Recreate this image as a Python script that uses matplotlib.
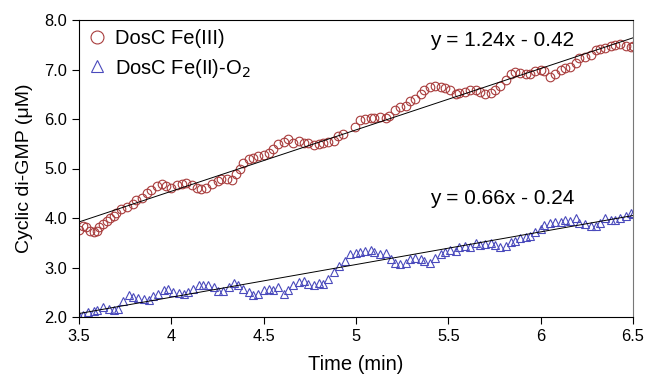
import matplotlib
matplotlib.use("Agg")
import matplotlib.pyplot as plt
import numpy as np

plt.rcParams['font.family'] = ['Liberation Sans', 'DejaVu Sans']

# DosC Fe(III) series (time in min, cyclic di-GMP in uM)
t_fe3 = [3.50, 3.52, 3.54, 3.56, 3.58, 3.60, 3.61, 3.63, 3.65, 3.67, 3.69, 3.70, 3.73, 3.76, 3.79,
         3.81, 3.84, 3.87, 3.89, 3.92, 3.95, 3.97, 4.00, 4.03, 4.06, 4.08, 4.11, 4.14, 4.16, 4.19,
         4.22, 4.25, 4.27, 4.30, 4.33, 4.35, 4.37, 4.39, 4.42, 4.44, 4.47, 4.50, 4.53, 4.55, 4.58,
         4.61, 4.63, 4.66, 4.69, 4.72, 4.74, 4.77, 4.80, 4.82, 4.85, 4.88, 4.90, 4.93, 4.995, 5.02,
         5.05, 5.08, 5.10, 5.13, 5.16, 5.18, 5.21, 5.24, 5.27, 5.29, 5.32, 5.35, 5.37, 5.40, 5.43,
         5.46, 5.48, 5.51, 5.54, 5.56, 5.59, 5.62, 5.65, 5.67, 5.70, 5.73, 5.75, 5.78, 5.81, 5.84,
         5.86, 5.89, 5.92, 5.94, 5.97, 6.00, 6.02, 6.05, 6.08, 6.11, 6.13, 6.16, 6.19, 6.21, 6.24,
         6.27, 6.30, 6.32, 6.35, 6.38, 6.40, 6.43, 6.46, 6.49, 6.50]
y_fe3 = [3.76, 3.84, 3.81, 3.74, 3.71, 3.74, 3.81, 3.88, 3.94, 4.01, 4.04, 4.11, 4.18, 4.23, 4.28,
         4.36, 4.41, 4.50, 4.57, 4.65, 4.68, 4.65, 4.61, 4.66, 4.69, 4.71, 4.66, 4.61, 4.59, 4.61,
         4.68, 4.75, 4.78, 4.78, 4.76, 4.88, 5.00, 5.12, 5.19, 5.22, 5.25, 5.27, 5.32, 5.40, 5.49,
         5.54, 5.59, 5.51, 5.55, 5.52, 5.51, 5.48, 5.49, 5.51, 5.54, 5.55, 5.65, 5.70, 5.84, 5.98,
         6.00, 6.02, 6.03, 6.04, 6.02, 6.06, 6.19, 6.24, 6.27, 6.36, 6.41, 6.51, 6.59, 6.65, 6.67,
         6.65, 6.63, 6.58, 6.51, 6.53, 6.55, 6.58, 6.59, 6.55, 6.51, 6.53, 6.58, 6.67, 6.79, 6.91,
         6.94, 6.93, 6.91, 6.91, 6.96, 7.00, 6.96, 6.85, 6.90, 6.98, 7.03, 7.06, 7.14, 7.23, 7.26,
         7.30, 7.40, 7.41, 7.43, 7.47, 7.50, 7.52, 7.47, 7.45, 7.47]

# DosC Fe(II)-O2 series
t_o2 = [3.50, 3.52, 3.55, 3.58, 3.60, 3.63, 3.66, 3.69, 3.71, 3.74, 3.77, 3.79, 3.82, 3.85, 3.88,
        3.90, 3.93, 3.96, 3.98, 4.01, 4.04, 4.07, 4.09, 4.12, 4.15, 4.17, 4.20, 4.23, 4.25, 4.28,
        4.31, 4.34, 4.36, 4.39, 4.42, 4.44, 4.47, 4.50, 4.53, 4.55, 4.58, 4.61, 4.63, 4.66, 4.69,
        4.72, 4.74, 4.77, 4.80, 4.82, 4.85, 4.88, 4.91, 4.94, 4.97, 5.00, 5.02, 5.05, 5.08, 5.10,
        5.13, 5.16, 5.19, 5.21, 5.24, 5.27, 5.29, 5.32, 5.35, 5.37, 5.40, 5.43, 5.46, 5.48, 5.51,
        5.54, 5.56, 5.59, 5.62, 5.65, 5.67, 5.70, 5.73, 5.75, 5.78, 5.81, 5.84, 5.86, 5.89, 5.92,
        5.94, 5.97, 6.00, 6.02, 6.05, 6.08, 6.11, 6.13, 6.16, 6.19, 6.21, 6.24, 6.27, 6.30, 6.32,
        6.35, 6.38, 6.40, 6.43, 6.46, 6.49, 6.50]
y_o2 = [2.03, 2.05, 2.10, 2.13, 2.15, 2.20, 2.17, 2.15, 2.17, 2.33, 2.44, 2.40, 2.38, 2.37, 2.35,
        2.42, 2.47, 2.54, 2.56, 2.50, 2.49, 2.47, 2.50, 2.57, 2.64, 2.65, 2.64, 2.60, 2.52, 2.52,
        2.60, 2.69, 2.65, 2.57, 2.50, 2.45, 2.47, 2.54, 2.57, 2.54, 2.60, 2.47, 2.54, 2.64, 2.70,
        2.72, 2.67, 2.64, 2.69, 2.67, 2.77, 2.90, 3.04, 3.14, 3.27, 3.29, 3.31, 3.34, 3.36, 3.31,
        3.27, 3.29, 3.17, 3.09, 3.07, 3.09, 3.18, 3.20, 3.18, 3.14, 3.10, 3.20, 3.27, 3.32, 3.36,
        3.34, 3.41, 3.44, 3.41, 3.49, 3.45, 3.47, 3.49, 3.45, 3.41, 3.44, 3.51, 3.54, 3.59, 3.61,
        3.63, 3.71, 3.78, 3.86, 3.90, 3.91, 3.92, 3.96, 3.94, 3.99, 3.90, 3.88, 3.84, 3.83, 3.90,
        3.99, 3.96, 3.96, 3.99, 4.04, 4.10, 4.08]

# Linear fits shown on chart
fit_fe3 = (1.24, -0.42)
fit_o2 = (0.66, -0.24)

x_ticks = [3.5, 4, 4.5, 5, 5.5, 6, 6.5]
x_ticklabels = ["3.5", "4", "4.5", "5", "5.5", "6", "6.5"]
y_ticks = [2, 3, 4, 5, 6, 7, 8]
y_ticklabels = ["2.0", "3.0", "4.0", "5.0", "6.0", "7.0", "8.0"]

fig = plt.figure(figsize=(6.48, 3.90), dpi=100)
ax = fig.add_axes([79/648, 1-317/390, (633-79)/648, (317-20)/390])

red = "#a83c3c"
blue = "#4a4abc"
ax.plot(t_fe3, y_fe3, linestyle='none', marker='o', markersize=6.2, markerfacecolor='none',
        markeredgecolor=red, markeredgewidth=0.8, label="DosC Fe(III)")
ax.plot(t_o2, y_o2, linestyle='none', marker='^', markersize=6.2, markerfacecolor='none',
        markeredgecolor=blue, markeredgewidth=0.8, label="DosC Fe(II)-O$_2$")

xf = np.array([3.5, 6.5])
ax.plot(xf, fit_fe3[0]*xf + fit_fe3[1], color='black', lw=0.7)
ax.plot(xf, fit_o2[0]*xf + fit_o2[1], color='black', lw=0.7)

ax.text(5.40, 7.58, "y = 1.24x - 0.42", fontsize=15, va='center', ha='left')
ax.text(5.40, 4.40, "y = 0.66x - 0.24", fontsize=15, va='center', ha='left')

ax.set_xlim(3.5, 6.5)
ax.set_ylim(2.0, 8.0)
ax.set_xticks(x_ticks)
ax.set_xticklabels(x_ticklabels)
ax.set_yticks(y_ticks)
ax.set_yticklabels(y_ticklabels)
ax.tick_params(direction='out', length=5, width=0.8, labelsize=11.8, top=False, right=False)
for s in ax.spines.values():
    s.set_linewidth(0.8)
ax.spines['right'].set_color('#777777')

ax.set_xlabel("Time (min)", fontsize=14.5, labelpad=8)
ax.set_ylabel("Cyclic di-GMP (\u03bcM)", fontsize=14, labelpad=8)

leg = ax.legend(loc='upper left', bbox_to_anchor=(0.006, 0.985), frameon=False, fontsize=14.5,
                handlelength=1.0, handletextpad=0.35, labelspacing=0.4, borderaxespad=0.0,
                borderpad=0.25, markerscale=1.5)

fig.savefig("out.png", dpi=100)
